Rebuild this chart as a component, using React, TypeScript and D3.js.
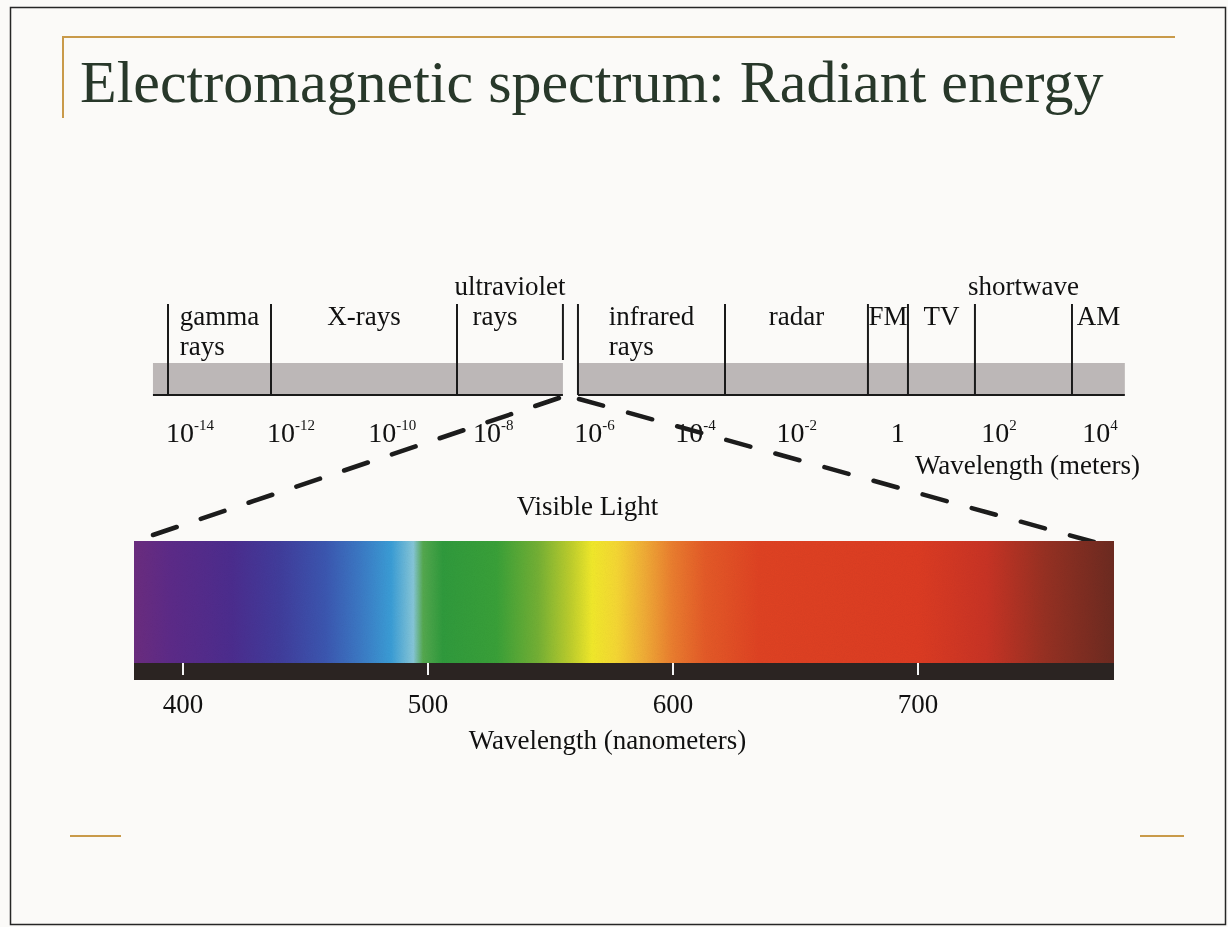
import * as d3 from 'd3';

// wavelength band edges in meters (left to right on the top strip)
const bandEdges = [3.67e-15, 4e-13, 1.91e-9, 2.38e-7, 4.72e-7, 3.82e-4, 0.257, 1.59, 33.6, 2.79e3, 3.1e4];
const bandNames = [
  ['gamma', 'rays'],
  ['X-rays'],
  ['ultraviolet', 'rays'],
  null, // visible light gap
  ['infrared', 'rays'],
  ['radar'],
  ['FM'],
  ['TV'],
  ['shortwave'],
  ['AM'],
];
const stripStart = 1.85e-15;
const meterTicks = [1e-14, 1e-12, 1e-10, 1e-8, 1e-6, 1e-4, 1e-2, 1, 1e2, 1e4];

// visible spectrum, nanometers
const nmDomain = [380, 780];
const nmTicks = [400, 500, 600, 700];
const spectrumStops: [number, string][] = [
  [380, '#6b2c7f'],
  [395, '#5c2a88'],
  [420, '#4b2c8e'],
  [440, '#403d9c'],
  [458, '#3b56b0'],
  [472, '#3b78c4'],
  [485, '#3a9dd6'],
  [494, '#86c6d8'],
  [498, '#54a84e'],
  [506, '#2f9a3c'],
  [528, '#39a038'],
  [545, '#74b034'],
  [558, '#bccd2c'],
  [567, '#f1e92a'],
  [577, '#f5d733'],
  [588, '#f0ad36'],
  [600, '#ea7c2e'],
  [613, '#e45a27'],
  [635, '#df4222'],
  [700, '#dc3b22'],
  [728, '#c83324'],
  [752, '#963022'],
  [780, '#6c2a20'],
];

const W = 1228;
const H = 927;
const SERIF = '"Liberation Serif", "Times New Roman", serif';

const measureCtx = typeof document !== 'undefined' ? document.createElement('canvas').getContext('2d') : null;
function textWidth(s: string, size: number) {
  if (!measureCtx) return s.length * size * 0.45;
  measureCtx.font = `${size}px ${SERIF}`;
  return measureCtx.measureText(s).width;
}

// dash pattern with a dash at both ends of a segment
function dashes(p0: [number, number], p1: [number, number], count: number, dash: number) {
  const len = Math.hypot(p1[0] - p0[0], p1[1] - p0[1]);
  const gap = (len - count * dash) / (count - 1);
  return `${dash} ${gap}`;
}

export default function App() {
  // top strip geometry
  const bandTop = 363;
  const bandBottom = 395;
  const divTop = 304;
  const labelSize = 27;
  const rowY = [295, 325, 355];

  const xm = d3.scaleLog().domain([1e-14, 1e4]).range([190, 1100]);

  // spectrum bar geometry
  const barTop = 541;
  const barBottom = 663;
  const stripBottom = 680;
  const xn = d3.scaleLinear().domain([400, 700]).range([183, 918]);
  const barX0 = xn(nmDomain[0]);
  const barX1 = xn(nmDomain[1]);
  const gradStop = d3.scaleLinear().domain(nmDomain).range([0, 100]);

  const visLo = bandEdges[3];
  const visHi = bandEdges[4];

  const bandSegments = [
    [stripStart, visLo],
    [visHi, bandEdges[bandEdges.length - 1]],
  ];

  const dashLine = d3.line();
  const lTop: [number, number] = [xm(visLo) - 4, bandBottom + 3];
  const lBot: [number, number] = [barX0 + 19, barTop - 6];
  const rTop: [number, number] = [xm(visHi) + 1, bandBottom + 4];
  const rBot: [number, number] = [barX1 - 20, barTop + 1];

  const labels: { text: string; x: number; y: number; anchor: string }[] = [];
  bandNames.forEach((lines, i) => {
    if (!lines) return;
    const x0 = xm(bandEdges[i]);
    const x1 = xm(bandEdges[i + 1]);
    const cx = (x0 + x1) / 2;
    const w0 = textWidth(lines[0], labelSize);
    const raised = w0 > x1 - x0 + 3;
    labels.push({ text: lines[0], x: cx, y: raised ? rowY[0] : rowY[1], anchor: 'middle' });
    lines.slice(1).forEach((t, j) => {
      if (raised) labels.push({ text: t, x: cx - 15, y: rowY[1 + j], anchor: 'middle' });
      else labels.push({ text: t, x: cx - w0 / 2, y: rowY[2 + j], anchor: 'start' });
    });
  });

  const exponent = (v: number) => Math.round(Math.log10(v));

  return (
    <svg
      width={W}
      height={H}
      viewBox={`0 0 ${W} ${H}`}
      style={{ position: 'absolute', left: 0, top: 0, display: 'block' }}
      fontFamily={SERIF}
    >
      <defs>
        <linearGradient id="spectrum" x1="0%" x2="100%" y1="0" y2="0">
          {spectrumStops.map(([nm, c]) => (
            <stop key={nm} offset={`${gradStop(nm)}%`} stopColor={c} />
          ))}
        </linearGradient>
        <filter id="grain" x="0" y="0" width="100%" height="100%">
          <feTurbulence type="fractalNoise" baseFrequency="0.9" numOctaves={2} seed={3} result="n" />
          <feColorMatrix in="n" type="saturate" values="0" />
        </filter>
      </defs>

      <rect x={0} y={0} width={W} height={H} fill="#fbfaf8" />
      <rect x={10.5} y={7.5} width={1215} height={917} fill="none" stroke="#262626" strokeWidth={1.5} />

      {/* title */}
      <path d="M63,118 V37 H1175" fill="none" stroke="#c99a4a" strokeWidth={2} />
      <text x={80} y={102} fontSize={60} fill="#28382a">
        Electromagnetic spectrum: Radiant energy
      </text>
      <line x1={70} x2={121} y1={836} y2={836} stroke="#c99a4a" strokeWidth={2} />
      <line x1={1140} x2={1184} y1={836} y2={836} stroke="#c99a4a" strokeWidth={2} />

      {/* electromagnetic strip */}
      {bandSegments.map(([a, b], i) => (
        <g key={i}>
          <rect x={xm(a)} y={bandTop} width={xm(b) - xm(a)} height={bandBottom - bandTop} fill="#bcb7b7" />
          <line x1={xm(a)} x2={xm(b)} y1={bandBottom} y2={bandBottom} stroke="#1a1a1a" strokeWidth={2} />
        </g>
      ))}
      {bandEdges.slice(0, -1).map((e, i) => (
        <line
          key={i}
          x1={xm(e)}
          x2={xm(e)}
          y1={divTop}
          y2={e === visLo ? 360 : bandBottom}
          stroke="#1a1a1a"
          strokeWidth={2}
        />
      ))}
      {labels.map((l, i) => (
        <text key={i} x={l.x} y={l.y} fontSize={labelSize} textAnchor={l.anchor} fill="#111">
          {l.text}
        </text>
      ))}

      {meterTicks.map((v) => (
        <text key={v} x={xm(v)} y={442} fontSize={28} textAnchor="middle" fill="#111">
          {exponent(v) === 0 ? (
            '1'
          ) : (
            <>
              <tspan>10</tspan>
              <tspan dy={-12} fontSize={15}>
                {exponent(v)}
              </tspan>
            </>
          )}
        </text>
      ))}
      <text x={1140} y={474} fontSize={27} textAnchor="end" fill="#111">
        Wavelength (meters)
      </text>

      {/* zoom lines to visible light, drawn from the bar upward */}
      <path
        d={dashLine([lBot, lTop]) ?? ''}
        stroke="#1c1c1c"
        strokeWidth={4.5}
        strokeDasharray={dashes(lBot, lTop, 9, 25)}
        strokeLinecap="round"
        fill="none"
      />
      <path
        d={dashLine([rBot, rTop]) ?? ''}
        stroke="#1c1c1c"
        strokeWidth={4.5}
        strokeDasharray={dashes(rBot, rTop, 11, 25)}
        strokeLinecap="round"
        fill="none"
      />

      <text x={(xm(visLo) + xm(visHi)) / 2 + 17} y={515} fontSize={27} textAnchor="middle" fill="#111">
        Visible Light
      </text>

      {/* visible spectrum */}
      <rect x={barX0} y={barTop} width={barX1 - barX0} height={barBottom - barTop} fill="url(#spectrum)" />
      <rect
        x={barX0}
        y={barTop}
        width={barX1 - barX0}
        height={barBottom - barTop}
        filter="url(#grain)"
        opacity={0.1}
        style={{ mixBlendMode: 'multiply' }}
      />
      <rect x={barX0} y={barBottom} width={barX1 - barX0} height={stripBottom - barBottom} fill="#2b2422" />
      {nmTicks.map((t) => (
        <g key={t}>
          <line x1={xn(t)} x2={xn(t)} y1={barBottom} y2={barBottom + 12} stroke="#f4f4f4" strokeWidth={2} />
          <text x={xn(t)} y={713} fontSize={27} textAnchor="middle" fill="#111">
            {t}
          </text>
        </g>
      ))}
      <text x={(xn(500) + xn(600)) / 2 + 57} y={749} fontSize={27} textAnchor="middle" fill="#111">
        Wavelength (nanometers)
      </text>
    </svg>
  );
}
